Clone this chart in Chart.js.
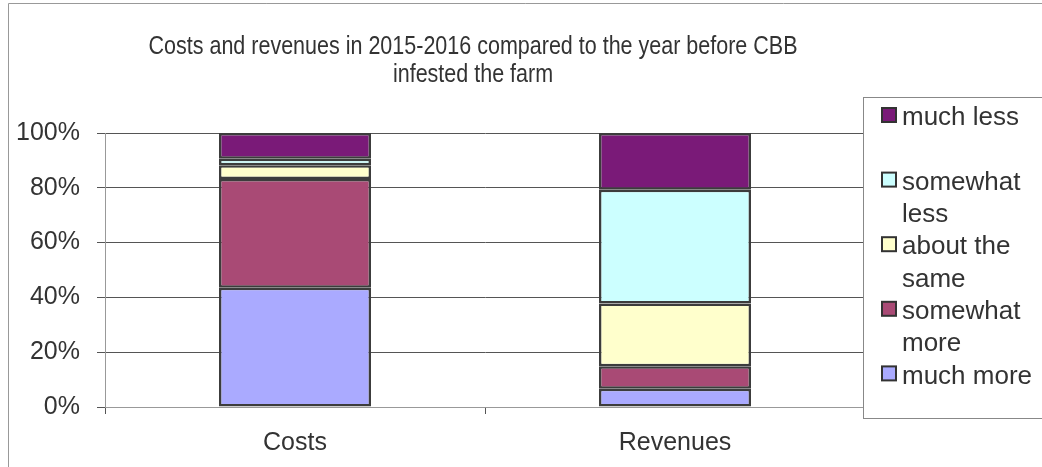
<!DOCTYPE html>
<html>
<head>
<meta charset="utf-8">
<script src="https://cdn.jsdelivr.net/npm/chart.js@4/dist/chart.umd.min.js"></script>
<style>
  html, body { margin: 0; padding: 0; background: #ffffff; }
  canvas { display: block; }
</style>
</head>
<body>
<canvas id="c" width="1042" height="467"></canvas>
<script>
// ---- data ----
const categories = ['Costs', 'Revenues'];
const seriesNames = ['much more', 'somewhat more', 'about the same', 'somewhat less', 'much less'];
const muchMore = [43.5, 6.7];
const somewhatMore = [39.7, 8.2];
const aboutSame = [5.0, 22.9];
const somewhatLess = [2.4, 41.5];
const muchLess = [9.4, 20.7];
const yTickValues = [0, 20, 40, 60, 80, 100];
const titleLines = ['Costs and revenues in 2015-2016 compared to the year before CBB', 'infested the farm'];

// ---- styles ----
const FONT = '"Liberation Sans", Arial, sans-serif';
const TEXT = '#333333';
const fills = ['#AAAAFF', '#A94A75', '#FFFFCC', '#CCFFFF', '#7A1A78'];
const seriesValues = [muchMore, somewhatMore, aboutSame, somewhatLess, muchLess];

const datasets = seriesNames.map((name, i) => ({
  label: name,
  data: seriesValues[i],
  backgroundColor: fills[i],
  borderColor: '#3c3c3c',
  borderWidth: 2.5,
  borderSkipped: false,
  categoryPercentage: 0.4,
  barPercentage: 1.0
}));

const decor = {
  id: 'decor',
  afterDraw(chart) {
    const ctx = chart.ctx;
    ctx.save();
    // outer frame
    ctx.strokeStyle = '#999999';
    ctx.lineWidth = 1;
    ctx.beginPath();
    ctx.moveTo(8.5, 467); ctx.lineTo(8.5, 3.5); ctx.lineTo(1042, 3.5);
    ctx.stroke();
    // title (slightly condensed, as in the reference)
    ctx.save();
    ctx.translate(473, 0);
    ctx.scale(0.86, 1);
    ctx.fillStyle = TEXT;
    ctx.font = '25px ' + FONT;
    ctx.textAlign = 'center';
    ctx.textBaseline = 'alphabetic';
    ctx.fillText(titleLines[0], 0, 54);
    ctx.fillText(titleLines[1], 0, 82);
    ctx.restore();
    // legend box
    ctx.fillStyle = '#ffffff';
    ctx.fillRect(863, 97, 200, 322);
    ctx.strokeStyle = '#888888';
    ctx.lineWidth = 1;
    ctx.strokeRect(863.5, 97.5, 200, 321);
    // legend entries (top = last dataset)
    const ds = chart.data.datasets.slice().reverse();
    const rowY = (r) => 117 + r * 32.3;
    let row = 0;
    ctx.textAlign = 'left';
    ctx.textBaseline = 'middle';
    ctx.font = '26px ' + FONT;
    ds.forEach((d, idx) => {
      const words = d.label.split(' ');
      const lines = [];
      let cur = '';
      words.forEach(w => {
        const t = cur ? cur + ' ' + w : w;
        if (ctx.measureText(t).width > 138 && cur) { lines.push(cur); cur = w; }
        else cur = t;
      });
      lines.push(cur);
      const y0 = rowY(row);
      ctx.fillStyle = d.backgroundColor;
      ctx.fillRect(882, y0 - 9, 14, 14);
      ctx.strokeStyle = '#333333';
      ctx.lineWidth = 2;
      ctx.strokeRect(882, y0 - 9, 14, 14);
      ctx.fillStyle = TEXT;
      lines.forEach((ln, k) => ctx.fillText(ln, 902, rowY(row + k) + 1));
      row += (idx < ds.length - 1) ? 2 : 1;
    });
    ctx.restore();
  }
};

new Chart(document.getElementById('c'), {
  type: 'bar',
  data: { labels: categories, datasets: datasets },
  plugins: [decor],
  options: {
    responsive: false,
    animation: false,
    devicePixelRatio: 1,
    layout: { padding: { left: 0, top: 133, right: 177, bottom: 0 } },
    plugins: { legend: { display: false }, title: { display: false }, tooltip: { enabled: false } },
    scales: {
      x: {
        stacked: true,
        afterFit(s) { s.height = 60; },
        grid: { display: true, drawOnChartArea: false, drawTicks: true, offset: true, tickLength: 7, color: '#555555' },
        border: { display: true, color: '#999999' },
        ticks: { color: TEXT, font: { family: FONT, size: 25 }, padding: 14 }
      },
      y: {
        stacked: true,
        min: 0, max: 100,
        afterFit(s) { s.width = 105; },
        afterBuildTicks(s) { s.ticks = yTickValues.map(v => ({ value: v })); },
        grid: { color: '#555555', tickLength: 8 },
        border: { display: true, color: '#999999' },
        ticks: { color: TEXT, font: { family: FONT, size: 25 }, padding: 17, callback: v => v + '%' }
      }
    }
  }
});
</script>
</body>
</html>
